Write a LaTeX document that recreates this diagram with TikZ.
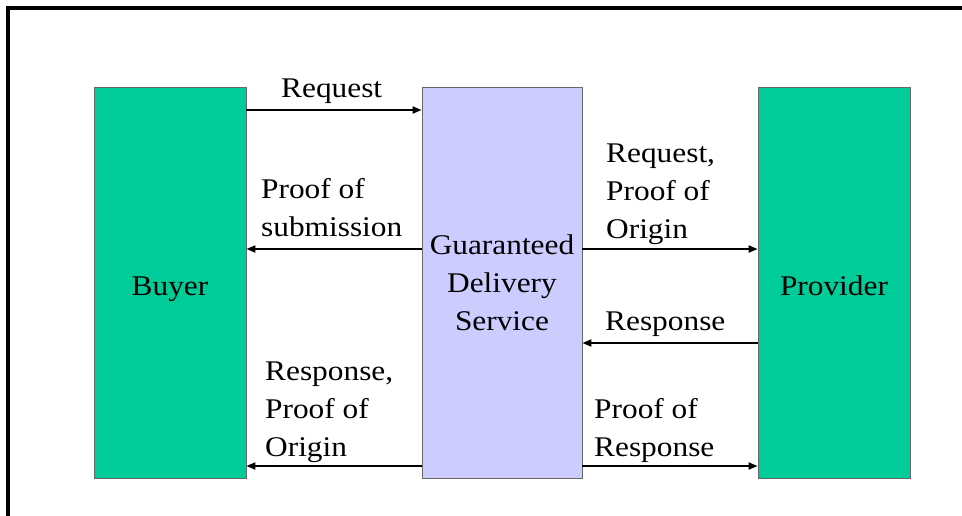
\documentclass[tikz,border=0pt]{standalone}
\usepackage{fontspec}
\setmainfont{Liberation Serif}[FakeStretch=1.1]
\usetikzlibrary{arrows.meta}
\definecolor{boxgreen}{RGB}{0,204,153}
\definecolor{boxlav}{RGB}{204,204,255}
\newcommand{\lines}[2][l]{\begin{tabular}[t]{@{}#1@{}}#2\end{tabular}}
\tikzset{
  box/.style={draw=black!60, line width=0.8pt, inner sep=0pt, minimum height=391pt},
  lbl/.style={inner sep=0pt, font=\fontsize{28.5}{38}\selectfont},
  conn/.style={line width=1.8pt, -{Triangle[length=9pt,width=7pt]}},
}
\begin{document}
\begin{tikzpicture}[x=1pt,y=-1pt]
\useasboundingbox (0,0) rectangle (962,515);
\draw[line width=4pt] (8,530) -- (8,8) -- (975,8);
% boxes
\node[box, fill=boxgreen, minimum width=152pt] (buyer) at (170,282.5) {};
\node[box, fill=boxlav, minimum width=160pt] (gds) at (502,282.5) {};
\node[box, fill=boxgreen, minimum width=152pt] (provider) at (834,282.5) {};
% box texts
\node[lbl, anchor=base] (buyertxt) at (170,295) {Buyer};
\node[lbl, anchor=base] (gdstxt) at (502,254) {\lines[c]{Guaranteed\\Delivery\\Service}};
\node[lbl, anchor=base] (providertxt) at (834,295) {Provider};
% row coordinates
\coordinate (r1) at (0,110);
\coordinate (r2) at (0,249);
\coordinate (r3) at (0,343);
\coordinate (r4) at (0,466);
% connectors
\draw[conn] (buyer.east |- r1) -- (gds.west |- r1);
\draw[conn] (gds.west |- r2) -- (buyer.east |- r2);
\draw[conn] (gds.east |- r2) -- (provider.west |- r2);
\draw[conn] (provider.west |- r3) -- (gds.east |- r3);
\draw[conn] (gds.west |- r4) -- (buyer.east |- r4);
\draw[conn] (gds.east |- r4) -- (provider.west |- r4);
% labels
\node[lbl, anchor=base west] (l1) at (281,97) {Request};
\node[lbl, anchor=base west] (l2) at (261,198) {\lines{Proof of\\submission}};
\node[lbl, anchor=base west] (l3) at (606,162) {\lines{Request,\\Proof of\\Origin}};
\node[lbl, anchor=base west] (l4) at (605,330) {Response};
\node[lbl, anchor=base west] (l5) at (265,380) {\lines{Response,\\Proof of\\Origin}};
\node[lbl, anchor=base west] (l6) at (594,418) {\lines{Proof of\\Response}};
\end{tikzpicture}
\end{document}
